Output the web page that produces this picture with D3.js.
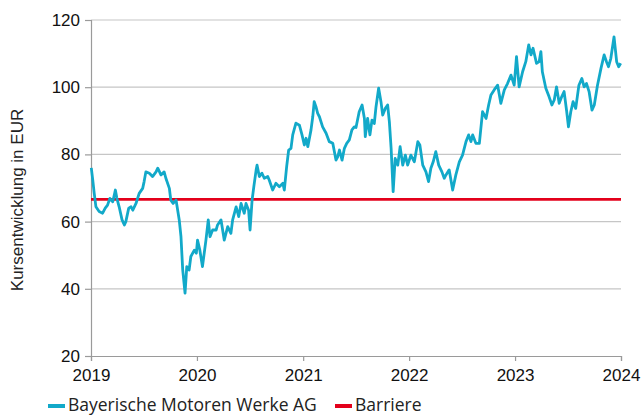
<!DOCTYPE html>
<html>
<head>
<meta charset="utf-8">
<script src="https://cdn.jsdelivr.net/npm/d3@7"></script>
<style>
  body { margin: 0; background: #fff; }
  .tick text { font-family: "Liberation Sans", Arial, sans-serif; }
</style>
</head>
<body>
<div class="chart"></div>
<script>
// Closing prices (date, EUR).
var dates = [
  "2019-01-02","2019-01-07","2019-01-12","2019-01-18","2019-01-29","2019-02-10","2019-02-19","2019-02-27",
  "2019-03-07","2019-03-17","2019-03-26","2019-03-31","2019-04-08","2019-04-18","2019-04-26","2019-05-01",
  "2019-05-11","2019-05-19","2019-05-25","2019-06-05","2019-06-16","2019-06-28","2019-07-03","2019-07-09",
  "2019-07-21","2019-08-01","2019-08-13","2019-08-19","2019-08-30","2019-09-10","2019-09-16","2019-09-28",
  "2019-10-03","2019-10-11","2019-10-21","2019-11-01","2019-11-07","2019-11-13","2019-11-21","2019-11-27",
  "2019-12-05","2019-12-11","2019-12-23","2019-12-30",
  "2020-01-03","2020-01-11","2020-01-20","2020-02-01","2020-02-09","2020-02-15","2020-02-24","2020-03-07",
  "2020-03-12","2020-03-24","2020-04-04","2020-04-16","2020-04-27","2020-05-03","2020-05-15","2020-05-24",
  "2020-06-01","2020-06-12","2020-06-18","2020-06-27","2020-07-02","2020-07-09","2020-07-15","2020-07-23",
  "2020-07-26","2020-08-03","2020-08-12","2020-08-20","2020-09-01","2020-09-06","2020-09-18","2020-09-29",
  "2020-10-11","2020-10-23","2020-10-28","2020-11-05","2020-11-12","2020-11-20","2020-11-26","2020-12-07",
  "2020-12-19","2020-12-28",
  "2021-01-05","2021-01-11","2021-01-17","2021-01-28","2021-02-03","2021-02-08","2021-02-14","2021-02-20",
  "2021-02-26","2021-03-09","2021-03-21","2021-04-01","2021-04-13","2021-04-24","2021-04-30","2021-05-06",
  "2021-05-15","2021-05-23","2021-05-31","2021-06-09","2021-06-18","2021-06-26","2021-07-02","2021-07-13",
  "2021-07-23","2021-07-31","2021-08-03","2021-08-11","2021-08-19","2021-08-26","2021-09-03","2021-09-09",
  "2021-09-18","2021-09-26","2021-10-02","2021-10-11","2021-10-19","2021-10-25","2021-10-31","2021-11-07",
  "2021-11-14","2021-11-23","2021-12-01","2021-12-10","2021-12-19","2021-12-27",
  "2022-01-07","2022-01-19","2022-01-31","2022-02-07","2022-02-17","2022-02-28","2022-03-09","2022-03-17",
  "2022-03-25","2022-04-03","2022-04-13","2022-04-24","2022-05-02","2022-05-08","2022-05-19","2022-05-31",
  "2022-06-11","2022-06-23","2022-07-04","2022-07-16","2022-07-25","2022-08-02","2022-08-08","2022-08-19",
  "2022-08-31","2022-09-11","2022-09-23","2022-10-02","2022-10-10","2022-10-21","2022-11-02","2022-11-13",
  "2022-11-25","2022-12-06","2022-12-18","2022-12-29",
  "2023-01-06","2023-01-15","2023-01-27","2023-02-07","2023-02-17","2023-02-25","2023-03-04","2023-03-16",
  "2023-03-25","2023-03-31","2023-04-05","2023-04-17","2023-04-28","2023-05-08","2023-05-16","2023-05-24",
  "2023-06-02","2023-06-11","2023-06-19","2023-06-28","2023-07-04","2023-07-12","2023-07-20","2023-07-29",
  "2023-08-09","2023-08-19","2023-08-27","2023-09-04","2023-09-13","2023-09-23","2023-10-01","2023-10-12",
  "2023-10-24","2023-11-04","2023-11-12","2023-11-19","2023-11-27","2023-12-08","2023-12-17","2023-12-24",
  "2023-12-31"
];
var prices = [
  76.0,72.4,68.5,64.4,63.0,62.5,64.0,64.9,
  66.9,65.9,69.4,67.0,64.4,60.5,59.0,60.0,
  64.0,64.4,63.4,65.4,68.4,69.9,71.9,74.8,
  74.4,73.4,74.8,75.9,73.9,74.8,72.9,69.9,
  66.4,65.4,66.4,60.5,55.5,45.6,38.7,46.6,
  45.6,49.6,51.5,50.6,
  54.5,51.5,46.6,54.5,60.5,55.5,57.5,57.5,
  59.0,60.5,54.5,58.5,56.5,60.5,64.4,61.5,
  65.4,62.5,65.4,63.4,57.5,66.4,70.4,75.4,
  76.8,73.4,74.4,72.9,73.4,72.4,69.4,71.4,
  70.4,71.4,69.4,76.3,81.3,81.8,85.8,89.3,
  88.7,85.8,
  82.8,84.8,82.3,87.3,91.2,95.7,94.2,92.2,
  91.2,88.2,86.3,83.8,83.3,78.3,79.3,81.3,
  78.3,81.8,83.3,84.3,87.3,88.2,88.0,92.7,
  94.7,90.7,85.3,90.7,85.8,90.2,89.2,94.2,
  99.7,95.7,91.7,93.7,94.7,89.7,81.8,68.9,
  78.8,76.8,82.3,76.8,79.8,76.8,
  79.8,77.8,83.8,82.8,76.8,74.8,71.9,75.9,
  77.8,80.8,76.8,74.8,72.9,73.9,75.4,69.4,
  73.9,77.8,79.8,83.8,85.8,83.8,85.8,83.3,
  83.3,92.7,90.7,94.7,97.7,99.2,100.6,95.2,
  99.2,101.1,103.6,100.6,
  109.1,100.1,104.6,107.6,112.6,109.6,111.6,107.1,
  107.6,110.6,104.6,99.7,97.2,94.7,96.2,100.1,
  95.2,97.2,98.7,92.7,88.2,92.7,95.7,93.7,
  100.6,102.6,100.1,101.1,98.7,93.2,94.7,100.6,
  105.6,109.6,107.6,106.1,108.6,115.0,107.6,106.1,
  107.1
];
var barrier = 66.6;
var yTicks = [20, 40, 60, 80, 100, 120];
var xTickYears = [2019, 2020, 2021, 2022, 2023, 2024];
var seriesLabel = "Bayerische Motoren Werke AG";
var barrierLabel = "Barriere";
var yTitle = "Kursentwicklung in EUR";

(function(){
  'use strict';

  var width = 641, height = 416;
  var margin = { top: 20, right: 20, bottom: 60, left: 91 };
  var teal = "#12a9c9", red = "#e3001b", gridColor = "#c6c6c6", axisColor = "#9a9a9a";

  var parse = d3.timeParse("%Y-%m-%d");
  var data = dates.map(function(d, i) {
    return { date: parse(d), value: prices[i] };
  });

  var svg = d3.select(".chart")
    .append("svg")
      .attr("width", width)
      .attr("height", height);

  var x = d3.scaleTime()
      .domain([new Date(xTickYears[0], 0, 1), new Date(xTickYears[xTickYears.length - 1], 0, 1)])
      .range([margin.left, width - margin.right]);

  var y = d3.scaleLinear()
      .domain([yTicks[0], yTicks[yTicks.length - 1]])
      .range([height - margin.bottom, margin.top]);

  // Horizontal grid lines.
  svg.append("g")
    .selectAll("line")
    .data(yTicks.slice(1))
    .enter()
    .append("line")
      .attr("x1", x.range()[0])
      .attr("x2", x.range()[1])
      .attr("y1", function(d){ return y(d); })
      .attr("y2", function(d){ return y(d); })
      .attr("stroke", gridColor)
      .attr("stroke-width", 1.2);

  // Y axis.
  var yAxis = svg.append("g")
      .attr("transform", "translate(" + margin.left + ",0)")
      .call(d3.axisLeft(y).tickValues(yTicks).tickSize(6).tickPadding(5).tickFormat(d3.format("d")));
  yAxis.selectAll("text").attr("font-size", 17).attr("fill", "#111");

  // X axis.
  var xAxis = svg.append("g")
      .attr("transform", "translate(0," + y(yTicks[0]) + ")")
      .call(d3.axisBottom(x)
        .tickValues(xTickYears.map(function(yr){ return new Date(yr, 0, 1); }))
        .tickSize(5).tickPadding(8).tickFormat(d3.timeFormat("%Y")));
  xAxis.selectAll("text").attr("font-size", 17).attr("fill", "#111");

  svg.selectAll(".domain, .tick line").attr("stroke", axisColor).attr("stroke-width", 1.2);

  // Y axis title.
  svg.append("text")
      .attr("transform", "translate(23," + ((y.range()[0] + y.range()[1]) / 2 + 12) + ") rotate(-90)")
      .attr("text-anchor", "middle")
      .attr("font-family", "'Liberation Sans', Arial, sans-serif")
      .attr("font-size", 17)
      .attr("fill", "#222")
      .text(yTitle);

  // Barrier.
  svg.append("line")
      .attr("x1", x.range()[0])
      .attr("x2", x.range()[1])
      .attr("y1", y(barrier))
      .attr("y2", y(barrier))
      .attr("stroke", red)
      .attr("stroke-width", 2.8);

  // Price line.
  var line = d3.line()
      .x(function(d){ return x(d.date); })
      .y(function(d){ return y(d.value); });

  svg.append("path")
      .datum(data)
      .attr("d", line)
      .attr("fill", "none")
      .attr("stroke", teal)
      .attr("stroke-width", 2.8)
      .attr("stroke-linejoin", "round");

  // Legend.
  var legend = svg.append("g")
      .attr("font-family", "'Open Sans', 'Noto Sans', sans-serif")
      .attr("font-size", 17.5)
      .attr("fill", "#222");

  var items = [
    { label: seriesLabel, color: teal, x: 48 },
    { label: barrierLabel, color: red, x: 335 }
  ];

  items.forEach(function(it) {
    legend.append("line")
        .attr("x1", it.x)
        .attr("x2", it.x + 17)
        .attr("y1", 406)
        .attr("y2", 406)
        .attr("stroke", it.color)
        .attr("stroke-width", 4);
    legend.append("text")
        .attr("x", it.x + 20)
        .attr("y", 411)
        .text(it.label);
  });
})();
</script>
</body>
</html>
